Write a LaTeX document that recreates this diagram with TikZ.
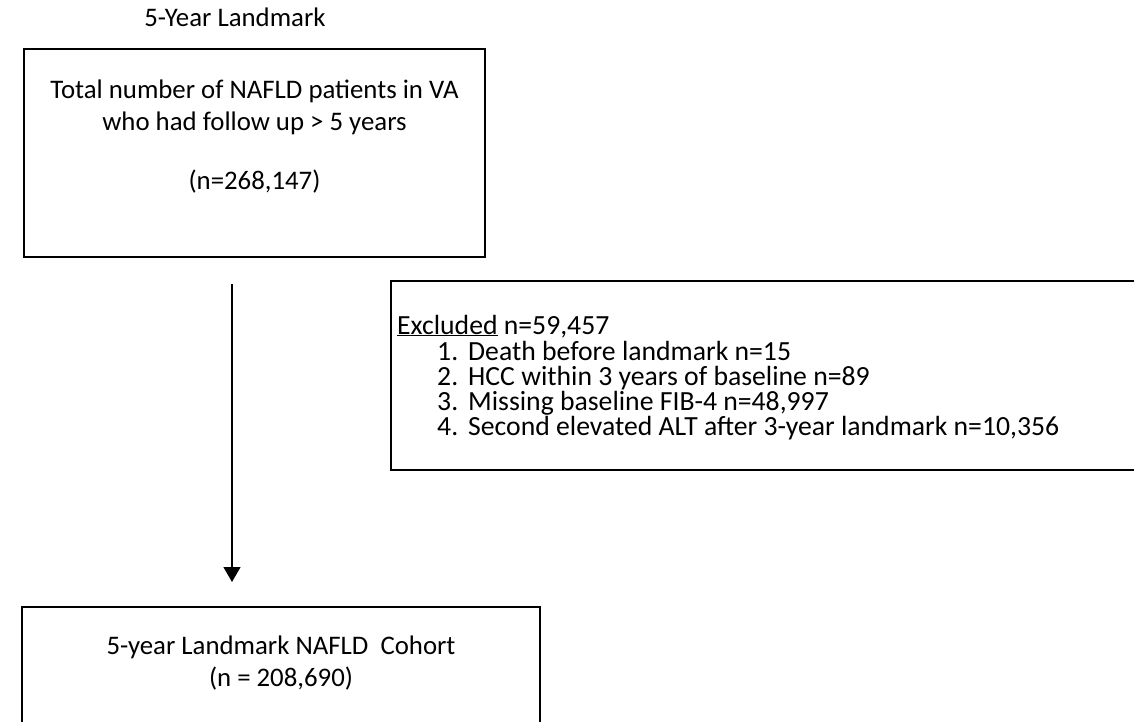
\documentclass[tikz,border=0pt]{standalone}
\usepackage{fontspec}
\setmainfont{Carlito}
\usetikzlibrary{arrows.meta}
\begin{document}
\begin{tikzpicture}[x=1pt,y=-1pt,
  box/.style={draw, line width=1.6pt, inner sep=0pt, outer sep=0pt},
  txt/.style={font=\fontsize{26.8}{32}\selectfont, inner sep=0pt, anchor=base},
  ltxt/.style={font=\fontsize{27.7}{32}\selectfont, inner sep=0pt, anchor=base west},
  arr/.style={line width=1.2pt, -{Triangle[width=17pt,length=15pt]}}]
\useasboundingbox (0,0) rectangle (1134,721);
\begin{scope}
\clip (0,0) rectangle (1134,721);
\node[box, anchor=north west, minimum width=461pt, minimum height=208pt] (topbox) at (24,49) {};
\node[box, anchor=north west, minimum width=800pt, minimum height=189pt] (exbox) at (391,281) {};
\node[box, anchor=north west, minimum width=518pt, minimum height=200pt] (botbox) at (22,607) {};
\end{scope}
\coordinate (a1) at (232,284);
\coordinate (a2) at (232,582);
\draw[arr] (a1) -- (a2);
\node[txt] (title) at (235,26) {5-Year Landmark};
\node[txt] (t1) at (254.5,98) {Total number of NAFLD patients in VA};
\node[txt] (t2) at (254.5,130) {who had follow up > 5 years};
\node[txt] (t3) at (254.5,189) {(n=268,147)};
\node[ltxt] (ex) at (397,334) {\underline{Excluded} n=59,457};
\node[ltxt] (n1) at (437,360) {1.};
\node[ltxt] (i1) at (468,360) {Death before landmark n=15};
\node[ltxt] (n2) at (437,385) {2.};
\node[ltxt] (i2) at (468,385) {HCC within 3 years of baseline n=89};
\node[ltxt] (n3) at (437,410) {3.};
\node[ltxt] (i3) at (468,410) {Missing baseline FIB-4 n=48,997};
\node[ltxt] (n4) at (437,435) {4.};
\node[ltxt] (i4) at (468,435) {Second elevated ALT after 3-year landmark n=10,356};
\node[txt] (b1) at (281,654) {5-year Landmark NAFLD\ \ Cohort};
\node[txt] (b2) at (281,686) {(n = 208,690)};
\end{tikzpicture}
\end{document}
